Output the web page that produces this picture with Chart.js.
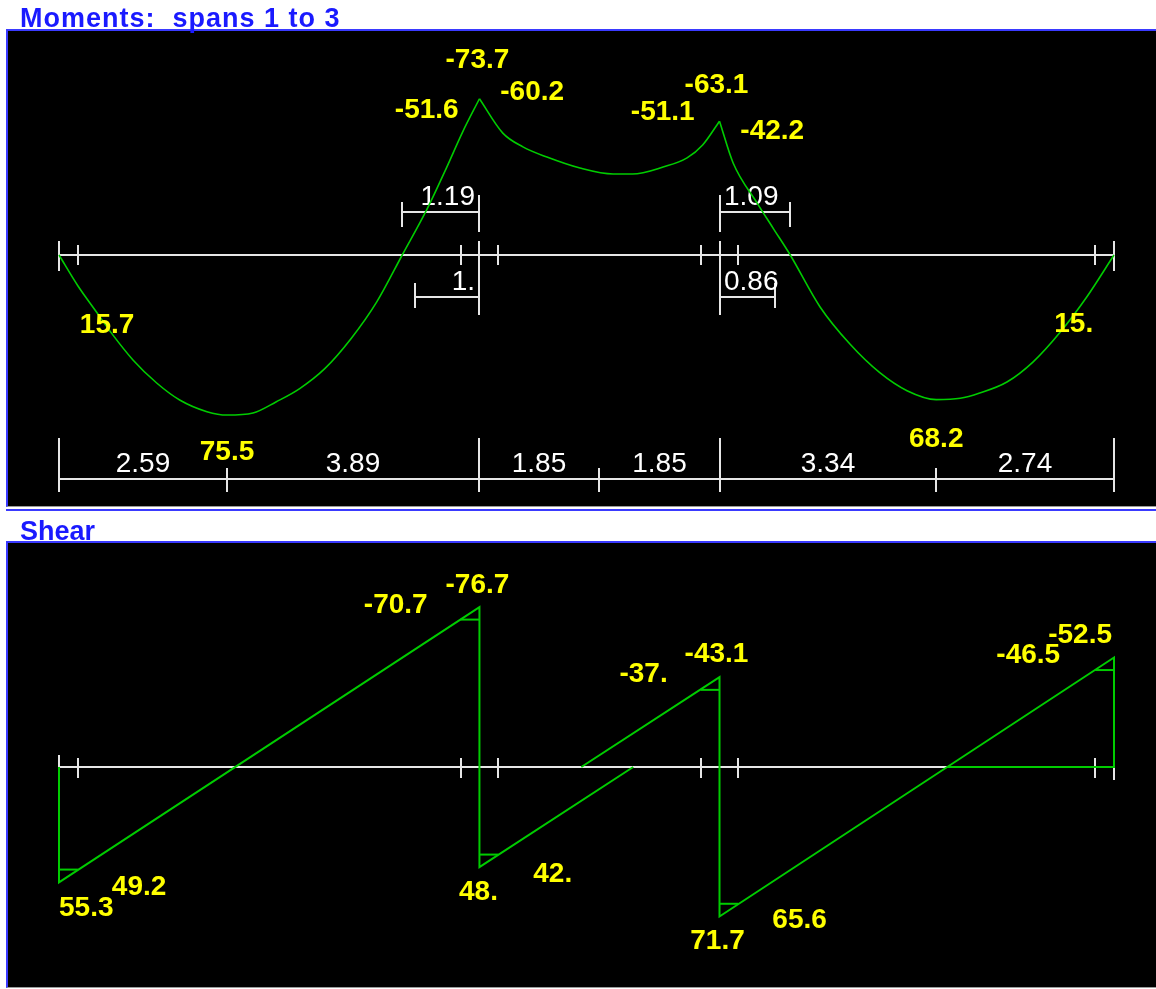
<!DOCTYPE html>
<html>
<head>
<meta charset="utf-8">
<title>Moments and shear</title>
<script src="https://cdn.jsdelivr.net/npm/chart.js@4.4.1/dist/chart.umd.min.js"></script>
<style>
  html, body { margin: 0; padding: 0; background: #fff; }
  body { width: 1156px; height: 989px; position: relative; overflow: hidden; font-family: "Liberation Sans", Arial, sans-serif; }
  .title { position: absolute; left: 20px; color: #1a1aff; font-weight: bold; font-size: 27px; line-height: 28px; z-index: 2; white-space: pre; }
  #momentTitle { top: 4px; letter-spacing: 1px; }
  #shearTitle { top: 517px; }
  .panel { position: absolute; left: 6px; width: 1148px; background: #000; border-top: 2px solid #3a3aff; border-left: 2px solid #3a3aff; border-bottom: 1px solid #9a9a9a; }
  .panel canvas { display: block; }
  #momentPanel { top: 29px; }
  #shearPanel { top: 541px; }
  .rule { position: absolute; left: 6px; top: 509px; width: 1150px; height: 2px; background: #3a3aff; }
</style>
</head>
<body>
<div class="title" id="momentTitle">Moments:  spans 1 to 3</div>
<div class="panel" id="momentPanel"><canvas id="momentChart" width="1148" height="475"></canvas></div>
<div class="rule"></div>
<div class="title" id="shearTitle">Shear</div>
<div class="panel" id="shearPanel"><canvas id="shearChart" width="1148" height="444"></canvas></div>

<script>
// ── Data ─────────────────────────────────────────────────────────────────
const spans = [6.48, 3.70, 6.08];          // span lengths, m
const faceOffset = 0.29;                    // support face from centreline, m
const dimSegments = [2.59, 3.89, 1.85, 1.85, 3.34, 2.74];
const dimLabels = ['2.59', '3.89', '1.85', '1.85', '3.34', '2.74'];

// bending moment, kNm (sagging positive, drawn downwards)
const m1X = [0, 0.29, 0.58, 0.80, 1.14, 1.51, 1.86, 2.28, 2.59, 2.99, 3.35, 3.71, 4.10, 4.50, 4.90, 5.29, 5.67, 5.97, 6.22, 6.48];
const m1Y = [0, 14.5, 27.0, 36.5, 49.5, 60.5, 68.4, 73.9, 75.5, 74.5, 69.2, 63.0, 53.5, 39.5, 22.0, 0, -21.5, -41.0, -58.0, -73.7];
const m2X = [6.48, 6.84, 7.15, 7.52, 8.03, 8.54, 8.84, 9.31, 9.68, 9.92, 10.18];
const m2Y = [-73.7, -57.5, -51.0, -46.2, -41.0, -38.2, -38.2, -41.5, -45.8, -51.9, -63.1];
const m3X = [10.18, 10.39, 10.76, 11.02, 11.27, 11.73, 12.19, 12.65, 13.07, 13.52, 13.89, 14.19, 14.61, 15.01, 15.42, 15.84, 16.26];
const m3Y = [-63.1, -43.4, -24.5, -12.0, 0, 24.5, 42.0, 55.5, 64.0, 68.2, 67.6, 65.1, 59.9, 50.5, 36.8, 19.8, 0];

const mLabelX = [6.19, 6.48, 6.77, 9.89, 10.18, 10.47, 0.29, 15.97, 2.59, 13.52];
const mLabelV = [-51.6, -73.7, -60.2, -51.1, -63.1, -42.2, 15.7, 15.0, 75.5, 68.2];
const mLabelText = ['-51.6', '-73.7', '-60.2', '-51.1', '-63.1', '-42.2', '15.7', '15.', '75.5', '68.2'];

// inflection points and cut-off lengths measured from supports 2 and 3
const inflFrom = [6.48, 10.18];
const inflLen = [-1.19, 1.09];
const inflText = ['1.19', '1.09'];
const cutFrom = [6.48, 10.18];
const cutLen = [-1.00, 0.86];
const cutText = ['1.', '0.86'];

// shear, kN
const v1X = [0, 0, 6.48, 6.48, 8.85];
const v1Y = [0, 55.3, -76.7, 48.0, 0];
const v2X = [8.05, 10.18, 10.18, 16.26, 16.26, 13.68];
const v2Y = [0, -43.1, 71.7, -52.5, 0, 0];
const faceX = [0, 6.19, 6.48, 9.89, 10.18, 15.97];
const faceV = [49.2, -70.7, 42.0, -37.0, 65.6, -46.5];

const vLabelX = [0, 0.29, 6.19, 6.48, 6.48, 6.77, 9.89, 10.18, 10.18, 10.47, 15.97, 16.26];
const vLabelV = [55.3, 49.2, -70.7, -76.7, 48.0, 42.0, -37.0, -43.1, 71.7, 65.6, -46.5, -52.5];
const vLabelText = ['55.3', '49.2', '-70.7', '-76.7', '48.', '42.', '-37.', '-43.1', '71.7', '65.6', '-46.5', '-52.5'];

// ── Layout ───────────────────────────────────────────────────────────────
const PAD_L = 51, PAD_R = 42;
const AXIS_Y = 224;
const M_SCALE = 2.12, V_SCALE = 2.085;   // px per kNm / kN
const GREEN = '#00cc00', WHITE_LINE = '#e6e6e6', WHITE = '#ffffff', YELLOW = '#ffff00';
const YELLOW_FONT = 'bold 28px "Liberation Sans"';
const WHITE_FONT = '28px "Liberation Sans"';

// label offsets [dx, dy, align] in px from the labelled value
const mPlace = [[-2, -28, 'right'], [-2, -31, 'center'], [2, -27, 'left'], [-6, -27, 'right'], [-3, -28, 'center'],
                [2, -27, 'left'], [2, 45, 'left'], [-2, 45, 'right'], [0, 45, 'center'], [0, 47, 'center']];
const vPlace = [[0, 34, 'left'], [34, 25, 'left'], [-33, -7, 'right'], [-2, -14, 'center'], [-1, 33, 'center'], [35, 27, 'left'],
                [-33, -8, 'right'], [-3, -15, 'center'], [-2, 33, 'center'], [34, 24, 'left'], [-35, -7, 'right'], [-2, -15, 'right']];

const supports = [0];
spans.forEach(s => supports.push(+(supports[supports.length - 1] + s).toFixed(2)));
const total = supports[supports.length - 1];
const faces = supports.flatMap(s => [s - faceOffset, s + faceOffset]).filter(f => f > 0 && f < total);

// ── Helpers ──────────────────────────────────────────────────────────────
const pts = (xs, ys) => xs.map((x, i) => ({ x, y: ys[i] }));

function seg(ctx, x1, y1, x2, y2) {
    ctx.beginPath(); ctx.moveTo(x1, y1); ctx.lineTo(x2, y2); ctx.stroke();
}

function drawLabels(chart, xs, vs, texts, place) {
    const { ctx, scales: { x, y } } = chart;
    ctx.save();
    ctx.font = YELLOW_FONT; ctx.fillStyle = YELLOW; ctx.textBaseline = 'alphabetic';
    texts.forEach((t, i) => {
        const [dx, dy, align] = place[i];
        ctx.textAlign = align;
        ctx.fillText(t, x.getPixelForValue(xs[i]) + dx, y.getPixelForValue(vs[i]) + dy);
    });
    ctx.restore();
}

function drawBeam(chart, supTick, faceTick, endsOnly) {
    const { ctx, scales: { x, y } } = chart;
    const X = v => Math.round(x.getPixelForValue(v));
    const y0 = Math.round(y.getPixelForValue(0));
    ctx.strokeStyle = WHITE_LINE; ctx.lineWidth = 2;
    seg(ctx, X(0), y0, X(total), y0);
    supports.filter(s => !endsOnly || s === 0 || s === total)
        .forEach(s => seg(ctx, X(s), y0 + supTick[0], X(s), y0 + supTick[1]));
    faces.forEach(f => seg(ctx, X(f), y0 + faceTick[0], X(f), y0 + faceTick[1]));
    return { X, y0 };
}

// dimension measured from a support
function drawSupportDims(ctx, X, froms, lens, texts, yl, supTick, outTick) {
    froms.forEach((s, i) => {
        const e = s + lens[i];
        seg(ctx, X(s), yl, X(e), yl);
        seg(ctx, X(s), yl + supTick[0], X(s), yl + supTick[1]);
        seg(ctx, X(e), yl + outTick[0], X(e), yl + outTick[1]);
        const left = lens[i] < 0;
        ctx.textAlign = left ? 'right' : 'left';
        ctx.fillText(texts[i], X(s) + (left ? -4 : 4), yl - 7);
    });
}

const momentPlugin = {
    id: 'momentDecor',
    beforeDatasetsDraw(chart) {
        const ctx = chart.ctx;
        ctx.save();
        const { X, y0 } = drawBeam(chart, [-14, 16], [-10, 10], false);
        ctx.font = WHITE_FONT; ctx.fillStyle = WHITE; ctx.textBaseline = 'alphabetic';
        drawSupportDims(ctx, X, inflFrom, inflLen, inflText, y0 - 43, [-17, 20], [-10, 15]);
        drawSupportDims(ctx, X, cutFrom, cutLen, cutText, y0 + 42, [-27, 18], [-14, 11]);

        // span dimensions along the bottom
        const yl = y0 + 224;
        seg(ctx, X(0), yl, X(total), yl);
        seg(ctx, X(0), yl - 41, X(0), yl + 13);
        let pos = 0;
        ctx.textAlign = 'center';
        dimSegments.forEach((d, i) => {
            const end = pos + d;
            const isSupport = supports.some(s => Math.abs(s - end) < 0.01);
            seg(ctx, X(end), yl + (isSupport ? -41 : -11), X(end), yl + 13);
            ctx.fillText(dimLabels[i], (X(pos) + X(end)) / 2, yl - 7);
            pos = end;
        });
        ctx.restore();
    },
    afterDatasetsDraw(chart) {
        drawLabels(chart, mLabelX, mLabelV, mLabelText, mPlace);
    }
};

const shearPlugin = {
    id: 'shearDecor',
    beforeDatasetsDraw(chart) {
        chart.ctx.save();
        drawBeam(chart, [-12, 13], [-9, 11], true);
        chart.ctx.restore();
    },
    afterDatasetsDraw(chart) {
        drawLabels(chart, vLabelX, vLabelV, vLabelText, vPlace);
    }
};

function baseOptions(canvasH, scale) {
    return {
        responsive: false,
        animation: false,
        devicePixelRatio: 1,
        events: [],
        layout: { padding: { left: PAD_L, right: PAD_R, top: 0, bottom: 0 } },
        elements: { point: { radius: 0 } },
        plugins: { legend: { display: false }, tooltip: { enabled: false } },
        scales: {
            x: { type: 'linear', display: false, min: 0, max: total },
            y: { type: 'linear', display: false, reverse: true, min: -AXIS_Y / scale, max: (canvasH - AXIS_Y) / scale }
        }
    };
}

// ── Charts ───────────────────────────────────────────────────────────────
const curve = (data, width, smooth) => ({
    data, showLine: true, borderColor: GREEN, borderWidth: width, clip: false,
    tension: 0, cubicInterpolationMode: smooth ? 'monotone' : 'default'
});

new Chart(document.getElementById('momentChart'), {
    type: 'scatter',
    data: {
        datasets: [
            curve(pts(m1X, m1Y), 1.6, true),
            curve(pts(m2X, m2Y), 1.6, true),
            curve(pts(m3X, m3Y), 1.6, true)
        ]
    },
    options: baseOptions(475, M_SCALE),
    plugins: [momentPlugin]
});

const faceSets = faceX.map((fx, i) => curve([{ x: fx, y: faceV[i] }, { x: fx + faceOffset, y: faceV[i] }], 2, false));

new Chart(document.getElementById('shearChart'), {
    type: 'scatter',
    data: {
        datasets: [
            curve(pts(v1X, v1Y), 2, false),
            curve(pts(v2X, v2Y), 2, false),
            ...faceSets
        ]
    },
    options: baseOptions(444, V_SCALE),
    plugins: [shearPlugin]
});
</script>
</body>
</html>
